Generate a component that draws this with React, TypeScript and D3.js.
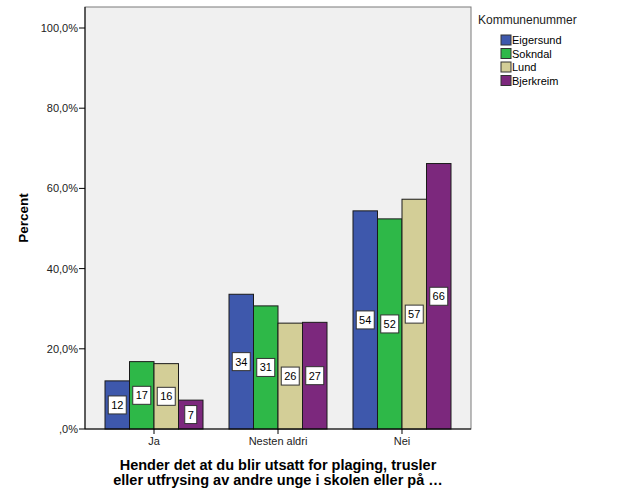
import React from "react";
import * as d3 from "d3";

const categories = ["Ja", "Nesten aldri", "Nei"];
const seriesNames = ["Eigersund", "Sokndal", "Lund", "Bjerkreim"];
const eigersund = [12.0, 33.6, 54.4];
const sokndal = [16.8, 30.7, 52.4];
const lund = [16.3, 26.4, 57.3];
const bjerkreim = [7.2, 26.6, 66.2];
const colors = ["#3E58AC", "#2EB848", "#D3CE97", "#7C287D"];
const yTicks = [0, 20, 40, 60, 80, 100];
const legendTitle = "Kommunenummer";
const yTitle = "Percent";
const xTitleLines = [
  "Hender det at du blir utsatt for plaging, trusler",
  "eller utfrysing av andre unge i skolen eller på …",
];

const series = [eigersund, sokndal, lund, bjerkreim];

export default function App() {
  const left = 85;
  const right = 471;
  const top = 7;
  const bottom = 429;
  const x0 = d3.scaleBand<string>().domain(categories).range([left, right]).paddingInner(0).paddingOuter(0.0565);
  const y = d3.scaleLinear().domain([0, 100]).range([bottom, 28]);
  const groupWidth = 98;
  const x1 = d3.scaleBand<string>().domain(seriesNames).range([0, groupWidth]);
  const fmt = (v: number) => (v === 0 ? ",0%" : v.toFixed(1).replace(".", ",") + "%");
  const font = "Arial, 'Liberation Sans', sans-serif";

  return (
    <svg width={629} height={504} style={{ position: "absolute", left: 0, top: 0 }} fontFamily={font}>
      <rect x={0} y={0} width={629} height={504} fill="#fff" />
      <rect x={left} y={top} width={right - left} height={bottom - top} fill="#F0F0F0" stroke="#7a7a7a" strokeWidth={1} />
      {categories.map((c, ci) => {
        const cx = (x0(c) as number) + x0.bandwidth() / 2;
        const gx = cx - groupWidth / 2;
        return (
          <g key={c}>
            {seriesNames.map((s, si) => {
              const v = series[si][ci];
              const bx = gx + (x1(s) as number);
              const bw = x1.bandwidth();
              const by = y(v);
              const mid = (by + bottom) / 2;
              const label = String(Math.round(v));
              const lw = label.length > 1 ? 18 : 12;
              return (
                <g key={s}>
                  <rect x={bx} y={by} width={bw} height={bottom - by} fill={colors[si]} stroke="#1a1a1a" strokeWidth={1} />
                  <rect x={bx + bw / 2 - lw / 2} y={mid - 9} width={lw} height={18} fill="#fff" stroke="#333" strokeWidth={1} />
                  <text x={bx + bw / 2} y={mid + 4} textAnchor="middle" fontSize={11} fill="#000">{label}</text>
                </g>
              );
            })}
          </g>
        );
      })}
      {/* axes */}
      <line x1={left} x2={left} y1={top} y2={bottom} stroke="#000" />
      <line x1={left} x2={right} y1={bottom} y2={bottom} stroke="#000" />
      {yTicks.map((t) => (
        <g key={t}>
          <line x1={left - 6} x2={left} y1={y(t)} y2={y(t)} stroke="#000" />
          <text x={left - 7} y={y(t) + 4} textAnchor="end" fontSize={11} fill="#222">{fmt(t)}</text>
        </g>
      ))}
      {categories.map((c) => {
        const cx = (x0(c) as number) + x0.bandwidth() / 2;
        return (
          <g key={c}>
            <line x1={cx} x2={cx} y1={bottom} y2={bottom + 5} stroke="#000" />
            <text x={cx} y={bottom + 16} textAnchor="middle" fontSize={11} fill="#222">{c}</text>
          </g>
        );
      })}
      <text transform={`translate(28,218) rotate(-90)`} textAnchor="middle" fontSize={13.5} fontWeight="bold" fill="#000">{yTitle}</text>
      {xTitleLines.map((l, i) => (
        <text key={i} x={278} y={470 + i * 15} textAnchor="middle" fontSize={14.5} fontWeight="bold" fill="#000">{l}</text>
      ))}
      {/* legend */}
      <text x={478} y={24} fontSize={12} fill="#222">{legendTitle}</text>
      {seriesNames.map((s, i) => (
        <g key={s}>
          <rect x={501} y={35 + i * 13.5} width={10} height={10} fill={colors[i]} stroke="#333" strokeWidth={1} />
          <text x={512} y={44 + i * 13.5} fontSize={11} fill="#000">{s}</text>
        </g>
      ))}
    </svg>
  );
}
